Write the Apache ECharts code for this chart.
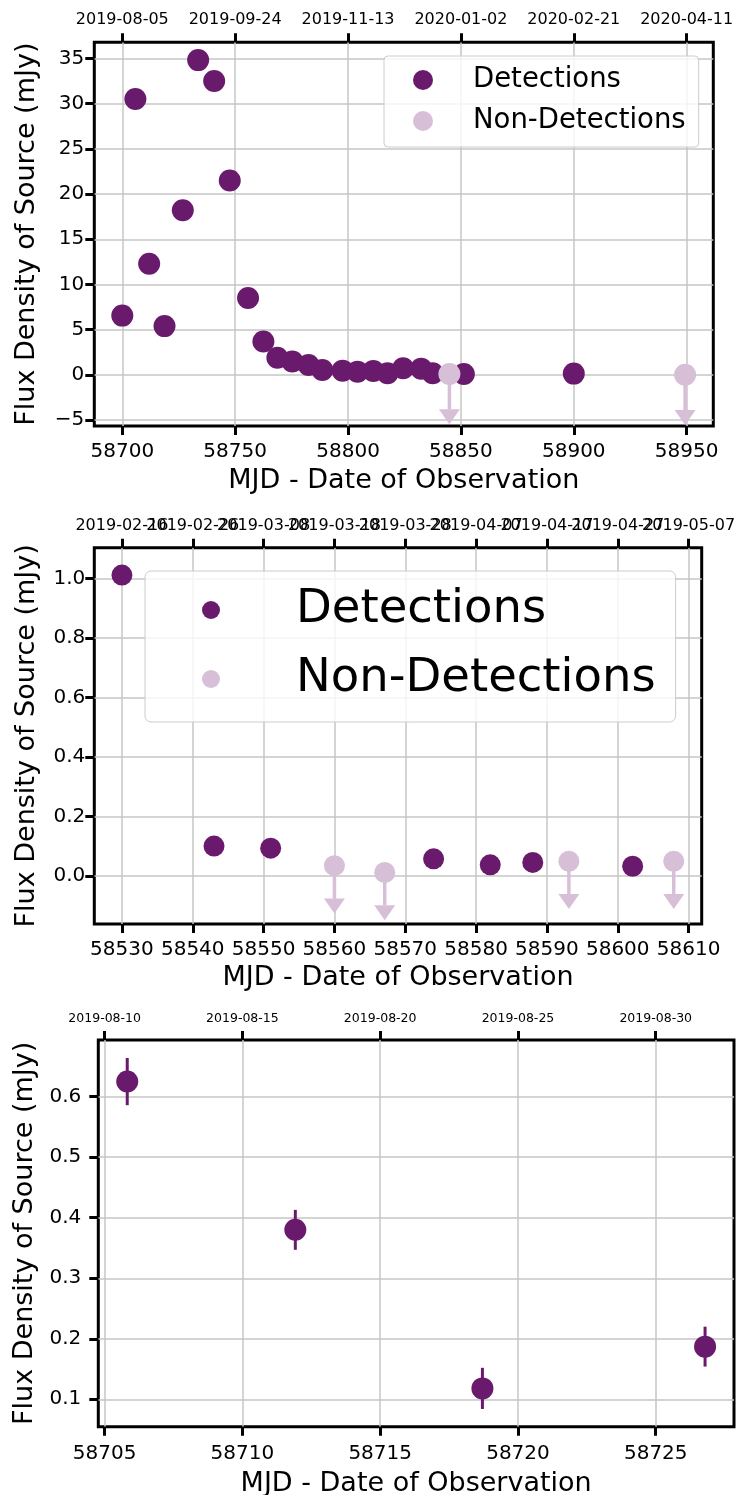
<!DOCTYPE html>
<html>
<head>
<meta charset="utf-8">
<script src="https://cdn.jsdelivr.net/npm/echarts@6/dist/echarts.min.js"></script>
<style>
  html, body { margin: 0; padding: 0; background: #ffffff; }
  #chart { width: 736px; height: 1495px; }
</style>
</head>
<body>
<div id="chart"></div>
<script>
// ---------- Panel A: full radio light curve ----------
const lcDetMjd  = [58700.0, 58705.8, 58711.9, 58718.7, 58726.8, 58733.6, 58740.7, 58747.6,
                   58755.7, 58762.5, 58768.7, 58775.3, 58782.5, 58788.6, 58797.6, 58804.2,
                   58811.2, 58817.5, 58824.4, 58832.4, 58837.5, 58851.3, 58900.0];
const lcDetFlux = [6.56, 30.5, 12.3, 5.4, 18.2, 34.8, 32.5, 21.5,
                   8.5, 3.7, 1.9, 1.5, 1.1, 0.55, 0.48, 0.37,
                   0.45, 0.2, 0.74, 0.7, 0.2, 0.1, 0.15];
const lcNonDetMjd  = [58844.9, 58949.3];
const lcNonDetFlux = [0.1, 0.03];
const lcLimitDrop  = 3.9;
const lcMjdTicks   = [58700, 58750, 58800, 58850, 58900, 58950];
const lcDateLabels = ['2019-08-05', '2019-09-24', '2019-11-13', '2020-01-02', '2020-02-21', '2020-04-11'];
const lcFluxTicks  = [-5, 0, 5, 10, 15, 20, 25, 30, 35];

// ---------- Panel B: early-2019 monitoring ----------
const earlyDetMjd  = [58530.0, 58543.0, 58551.0, 58574.0, 58582.0, 58588.0, 58602.1];
const earlyDetFlux = [1.012, 0.101, 0.094, 0.058, 0.038, 0.046, 0.033];
const earlyNonDetMjd  = [58560.0, 58567.1, 58593.1, 58607.9];
const earlyNonDetFlux = [0.035, 0.012, 0.050, 0.050];
const earlyLimitDrop  = 0.11;
const earlyMjdTicks   = [58530, 58540, 58550, 58560, 58570, 58580, 58590, 58600, 58610];
const earlyDateLabels = ['2019-02-16', '2019-02-26', '2019-03-08', '2019-03-18', '2019-03-28',
                         '2019-04-07', '2019-04-17', '2019-04-27', '2019-05-07'];
const earlyFluxTicks  = [0.0, 0.2, 0.4, 0.6, 0.8, 1.0];

// ---------- Panel C: August 2019 detections with errors ----------
const augMjd     = [58705.82, 58711.92, 58718.71, 58726.79];
const augFlux    = [0.625, 0.380, 0.118, 0.187];
const augFluxErr = [0.039, 0.033, 0.034, 0.033];
const augMjdTicks   = [58705, 58710, 58715, 58720, 58725];
const augDateLabels = ['2019-08-10', '2019-08-15', '2019-08-20', '2019-08-25', '2019-08-30'];
const augFluxTicks  = [0.1, 0.2, 0.3, 0.4, 0.5, 0.6];

// ---------- styling ----------
const FONT = 'DejaVu Sans';
const PURPLE = '#6a1a6c';
const THISTLE = '#d8bfd8';
const GRID_COLOR = '#c6c6c6';
const X_NAME = 'MJD - Date of Observation';
const Y_NAME = 'Flux Density of Source (mJy)';

const panels = [
  { grid: { left: 94.3, top: 42.3, width: 619, height: 383.7 },
    xRange: [58687.6, 58961.8], yRange: [-5.64, 36.77],
    xTicks: lcMjdTicks, dates: lcDateLabels, yTicks: lcFluxTicks,
    yFmt: v => (v < 0 ? '\u2212' + Math.abs(v) : String(v)),
    xLabelMargin: 16, dateMargin: 14, dateSize: 16, yLabelMargin: 10, xNameGap: 41, yNameGap: 54 },
  { grid: { left: 94.3, top: 547.7, width: 607.4, height: 376.3 },
    xRange: [58526.1, 58611.85], yRange: [-0.161, 1.104],
    xTicks: earlyMjdTicks, dates: earlyDateLabels, yTicks: earlyFluxTicks,
    yFmt: v => v.toFixed(1),
    xLabelMargin: 16, dateMargin: 14, dateSize: 16, yLabelMargin: 9, xNameGap: 40, yNameGap: 54 },
  { grid: { left: 98.3, top: 1040, width: 635.7, height: 386.7 },
    xRange: [58704.77, 58727.84], yRange: [0.0547, 0.6937],
    xTicks: augMjdTicks, dates: augDateLabels, yTicks: augFluxTicks,
    yFmt: v => v.toFixed(1),
    xLabelMargin: 17, dateMargin: 15, dateSize: 12.5, yLabelMargin: 17, xNameGap: 44, yNameGap: 56 }
];

const tickStyle = { color: '#000', width: 3 };
const X_PER_PANEL = 3;   // bottom MJD axis + two interleaved top date axes

const grids = [], xAxes = [], yAxes = [];
panels.forEach((p, i) => {
  grids.push(Object.assign({ show: true, borderColor: '#000', borderWidth: 3,
    backgroundColor: 'transparent', containLabel: false, outerBoundsMode: 'none' }, p.grid));
  // bottom MJD axis
  xAxes.push({
    type: 'value', gridIndex: i, position: 'bottom', min: p.xRange[0], max: p.xRange[1],
    name: X_NAME, nameLocation: 'middle', nameGap: p.xNameGap,
    nameTextStyle: { fontFamily: FONT, fontSize: 27, color: '#000' },
    axisLine: { show: false, onZero: false },
    axisTick: { show: true, inside: false, length: 9, customValues: p.xTicks, lineStyle: tickStyle },
    axisLabel: { show: true, customValues: p.xTicks, margin: p.xLabelMargin,
      hideOverlap: false, showMinLabel: true, showMaxLabel: true,
      fontFamily: FONT, fontSize: 20, color: '#000', formatter: v => String(v) },
    splitLine: { show: true, lineStyle: { color: GRID_COLOR, width: 1.5 } }
  });
  // top calendar-date axes: even and odd ticks on two stacked axes so that
  // neighbouring (overlapping) date labels are all kept
  [0, 1].forEach(parity => {
    const ticks = p.xTicks.filter((t, k) => k % 2 === parity);
    xAxes.push({
      type: 'value', gridIndex: i, position: 'top', offset: 0, min: p.xRange[0], max: p.xRange[1],
      axisLine: { show: false, onZero: false },
      axisTick: { show: true, inside: false, length: 9, customValues: ticks, lineStyle: tickStyle },
      axisLabel: { show: true, customValues: ticks, margin: p.dateMargin,
        hideOverlap: false, showMinLabel: true, showMaxLabel: true,
        fontFamily: FONT, fontSize: p.dateSize, color: '#000',
        formatter: v => { const k = p.xTicks.indexOf(Math.round(v)); return k >= 0 ? p.dates[k] : ''; } },
      splitLine: { show: false }
    });
  });
  yAxes.push({
    type: 'value', gridIndex: i, position: 'left', min: p.yRange[0], max: p.yRange[1],
    name: Y_NAME, nameLocation: 'middle', nameGap: p.yNameGap, nameRotate: 90,
    nameTextStyle: { fontFamily: FONT, fontSize: 27, color: '#000' },
    axisLine: { show: false, onZero: false },
    axisTick: { show: true, inside: false, length: 9, customValues: p.yTicks, lineStyle: tickStyle },
    axisLabel: { show: true, customValues: p.yTicks, margin: p.yLabelMargin,
      hideOverlap: false, showMinLabel: true, showMaxLabel: true,
      fontFamily: FONT, fontSize: 20, color: '#000', formatter: p.yFmt },
    splitLine: { show: true, lineStyle: { color: GRID_COLOR, width: 1.5 } }
  });
});

// downward arrow from an upper limit: stem plus a caret whose base sits at the stem end
function limitArrow(params, api) {
  const x = api.value(0), y = api.value(1), drop = api.value(2);
  const p0 = api.coord([x, y]);
  const p1 = api.coord([x, y - drop]);
  return {
    type: 'group',
    children: [
      { type: 'line', shape: { x1: p0[0], y1: p0[1], x2: p1[0], y2: p1[1] },
        style: { stroke: THISTLE, lineWidth: 3.5 } },
      { type: 'polygon',
        shape: { points: [[p1[0] - 10.5, p1[1]], [p1[0] + 10.5, p1[1]], [p1[0], p1[1] + 15]] },
        style: { fill: THISTLE } }
    ]
  };
}

// symmetric vertical error bar
function errorBar(params, api) {
  const x = api.value(0), y = api.value(1), e = api.value(2);
  const lo = api.coord([x, y - e]);
  const hi = api.coord([x, y + e]);
  return { type: 'line', shape: { x1: lo[0], y1: lo[1], x2: hi[0], y2: hi[1] },
    style: { stroke: PURPLE, lineWidth: 3 } };
}

const pairs = (xs, ys) => xs.map((x, k) => [x, ys[k]]);
const triples = (xs, ys, zs) => xs.map((x, k) => [x, ys[k], Array.isArray(zs) ? zs[k] : zs]);

function scatter(name, gi, data, color, size, z) {
  return { type: 'scatter', name, xAxisIndex: gi * X_PER_PANEL, yAxisIndex: gi, data,
    symbol: 'circle', symbolSize: size, itemStyle: { color, opacity: 1 }, z,
    emphasis: { disabled: true } };
}

function custom(name, gi, renderItem, data) {
  return { type: 'custom', name, xAxisIndex: gi * X_PER_PANEL, yAxisIndex: gi, renderItem,
    data, encode: { x: 0, y: 1 }, z: 2 };
}

const series = [
  custom('limits-a', 0, limitArrow, triples(lcNonDetMjd, lcNonDetFlux, lcLimitDrop)),
  scatter('Detections', 0, pairs(lcDetMjd, lcDetFlux), PURPLE, 22, 3),
  scatter('Non-Detections', 0, pairs(lcNonDetMjd, lcNonDetFlux), THISTLE, 22, 4),

  custom('limits-b', 1, limitArrow, triples(earlyNonDetMjd, earlyNonDetFlux, earlyLimitDrop)),
  scatter('Detections', 1, pairs(earlyDetMjd, earlyDetFlux), PURPLE, 21, 3),
  scatter('Non-Detections', 1, pairs(earlyNonDetMjd, earlyNonDetFlux), THISTLE, 21, 4),

  custom('errors-c', 2, errorBar, triples(augMjd, augFlux, augFluxErr)),
  scatter('Detections', 2, pairs(augMjd, augFlux), PURPLE, 22, 3)
];

const legendBase = {
  data: ['Detections', 'Non-Detections'], orient: 'vertical', icon: 'circle',
  itemWidth: 40, selectedMode: false,
  backgroundColor: 'rgba(255,255,255,0.8)', borderColor: '#cccccc', borderWidth: 1
};

const legends = [
  Object.assign({}, legendBase, {
    left: 384, top: 56, itemHeight: 20, itemGap: 11, padding: [9, 13, 11, 29], borderRadius: 4,
    textStyle: { fontFamily: FONT, fontSize: 27.5, lineHeight: 30, color: '#000', padding: [0, 0, 0, 25] }
  }),
  Object.assign({}, legendBase, {
    left: 145, top: 571, itemHeight: 18, itemGap: 17, padding: [13, 20, 17, 57], borderRadius: 6,
    textStyle: { fontFamily: FONT, fontSize: 46.5, lineHeight: 52, color: '#000', padding: [0, 0, 0, 60] }
  })
];

const chart = echarts.init(document.getElementById('chart'), null, { renderer: 'canvas' });
chart.setOption({
  animation: false,
  backgroundColor: '#ffffff',
  textStyle: { fontFamily: FONT },
  grid: grids,
  xAxis: xAxes,
  yAxis: yAxes,
  legend: legends,
  series: series
});
</script>
</body>
</html>
